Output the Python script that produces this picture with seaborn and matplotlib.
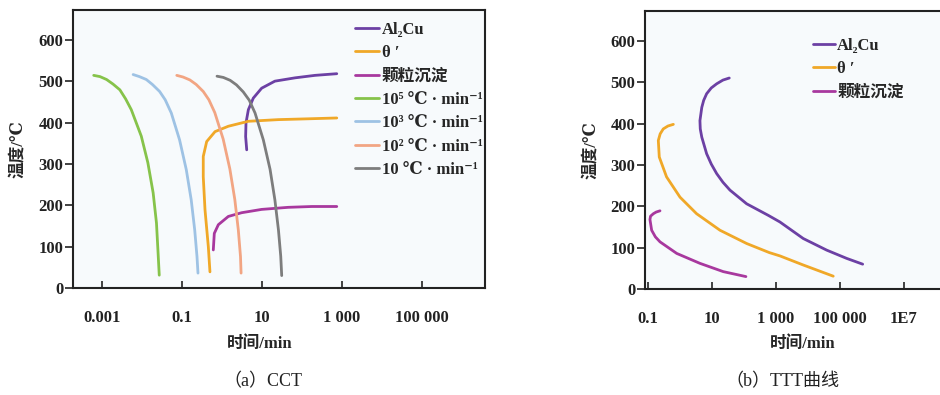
import numpy as np
import pandas as pd
import seaborn as sns
import matplotlib
matplotlib.use("Agg")
import matplotlib.pyplot as plt
from matplotlib.ticker import NullLocator

# ---- data (time in min, temperature in degC) ----
# (a) CCT
cct_al2cu_t = [4.15, 3.9, 3.98, 4.56, 6.06, 9.8, 21, 67, 211, 740]
cct_al2cu_T = [334, 366, 399, 431, 459, 483, 500, 508, 514, 518]
cct_theta_t = [0.5, 0.455, 0.376, 0.34, 0.34, 0.414, 0.67, 1.44, 4.55, 25.6, 144, 740]
cct_theta_T = [39, 100, 189, 269, 318, 354, 378, 391, 403, 407, 409, 411]
cct_part_t = [0.606, 0.642, 0.81, 1.44, 3.1, 9.8, 45, 175, 740]
cct_part_T = [92, 132, 153, 173, 182, 190, 195, 197, 197]

cool5_t = [0.00062, 0.00089, 0.0013, 0.00188, 0.0028, 0.0039, 0.0054, 0.0096, 0.014, 0.019, 0.023, 0.025, 0.027]
cool5_T = [514, 511, 504, 493, 479, 457, 431, 367, 303, 230, 157, 92, 31]
cool3_t = [0.006, 0.0086, 0.0128, 0.0182, 0.0276, 0.038, 0.054, 0.087, 0.128, 0.17, 0.208, 0.237, 0.251]
cool3_T = [516, 511, 504, 492, 475, 455, 423, 358, 286, 213, 140, 76, 36]
cool2_t = [0.074, 0.106, 0.157, 0.226, 0.34, 0.47, 0.66, 1.07, 1.57, 2.09, 2.56, 2.9, 3.0]
cool2_T = [514, 510, 503, 492, 475, 455, 424, 360, 288, 214, 140, 76, 36]
cool1_t = [0.75, 1.08, 1.6, 2.3, 3.4, 4.8, 6.7, 10.8, 15.9, 21, 25.8, 29.4, 31.1]
cool1_T = [512, 509, 502, 491, 474, 454, 423, 358, 287, 213, 140, 77, 30]

# (b) TTT
ttt_al2cu_t = [34.7, 22, 14, 9.5, 6.8, 5.5, 4.8, 4.2, 4.3, 4.8, 6.8, 9.5, 14, 22, 36.5, 121, 575, 1330, 7130, 38400, 162000, 513000]
ttt_al2cu_T = [510, 505, 496, 486, 472, 456, 439, 407, 387, 367, 327, 302, 279, 258, 239, 206, 178, 162, 122, 94, 74, 60]
ttt_theta_t = [0.62, 0.42, 0.30, 0.24, 0.21, 0.225, 0.38, 1.0, 3.3, 17.8, 121, 620, 1330, 7130, 61700]
ttt_theta_T = [398, 394, 387, 375, 359, 319, 271, 222, 182, 142, 110, 88, 80, 58, 31]
ttt_part_t = [0.237, 0.18, 0.147, 0.12, 0.115, 0.13, 0.17, 0.237, 0.79, 4.2, 22.5, 115]
ttt_part_T = [189, 186, 182, 176, 168, 142, 126, 114, 86, 62, 42, 30]

labels_cct = ["Al₂Cu", "θ ′", "颗粒沉淀",
              "10⁵ ℃ · min⁻¹", "10³ ℃ · min⁻¹", "10² ℃ · min⁻¹", "10 ℃ · min⁻¹"]
labels_ttt = ["Al₂Cu", "θ ′", "颗粒沉淀"]
colors = ["#6c40a4", "#f0a828", "#a8389e", "#86c34a", "#9ec2e4", "#f2a583", "#7d7d7d"]

cct_xticks = [1e-3, 1e-1, 1e1, 1e3, 1e5]
cct_xlabels = ["0.001", "0.1", "10", "1 000", "100 000"]
ttt_xticks = [1e-1, 1e1, 1e3, 1e5, 1e7]
ttt_xlabels = ["0.1", "10", "1 000", "100 000", "1E7"]
yticks = [0, 100, 200, 300, 400, 500, 600]

sns.set_theme(style="ticks")
FONTS = ["Liberation Serif", "DejaVu Serif", "Noto Sans CJK SC"]
plt.rcParams["font.family"] = FONTS

fig = plt.figure(figsize=(9.4, 3.95), dpi=100)
fig.patch.set_facecolor("white")
ax1 = fig.add_axes([73 / 940, 1 - 288 / 395, 412 / 940, 278 / 395])
ax2 = fig.add_axes([645 / 940, 1 - 289 / 395, 305 / 940, 278 / 395])

cct = [(cct_al2cu_t, cct_al2cu_T), (cct_theta_t, cct_theta_T), (cct_part_t, cct_part_T),
       (cool5_t, cool5_T), (cool3_t, cool3_T), (cool2_t, cool2_T), (cool1_t, cool1_T)]
ttt = [(ttt_al2cu_t, ttt_al2cu_T), (ttt_theta_t, ttt_theta_T), (ttt_part_t, ttt_part_T)]

for ax, series, labels in [(ax1, cct, labels_cct), (ax2, ttt, labels_ttt)]:
    ax.set_xscale("log")
    for (t, T), lab, c in zip(series, labels, colors):
        sns.lineplot(x=t, y=T, ax=ax, color=c, label=lab, sort=False,
                     estimator=None, lw=2.0, solid_joinstyle="round", solid_capstyle="round")

ax1.set_xlim(10 ** -3.725, 10 ** 6.575)
ax2.set_xlim(10 ** -1.094, 10 ** 8.44)

tick_font = dict(family=FONTS, size=12, weight="bold")
for ax, xt, xl in [(ax1, cct_xticks, cct_xlabels), (ax2, ttt_xticks, ttt_xlabels)]:
    ax.set_facecolor("#f7fafc")
    ax.set_ylim(0, 672)
    ax.set_xticks(xt)
    ax.set_xticklabels(xl, fontdict=tick_font)
    ax.xaxis.set_minor_locator(NullLocator())
    ax.set_yticks(yticks)
    ax.set_yticklabels([str(v) for v in yticks], fontdict=tick_font)
    ax.tick_params(axis="x", direction="in", length=5, width=1.2, pad=16, colors="#222222")
    ax.tick_params(axis="y", direction="out", length=5.5, width=1.2, pad=1.5, colors="#222222")
    for s in ax.spines.values():
        s.set_linewidth(1.5)
        s.set_color("#222222")
    ax.set_xlabel("时间/min", fontdict=tick_font)
    ax.set_ylabel("温度/℃", fontdict=tick_font)

ax1.xaxis.set_label_coords(0.454, -0.172)
ax2.xaxis.set_label_coords(0.518, -0.169)
ax1.yaxis.set_label_coords(-0.115, 0.5)
ax2.yaxis.set_label_coords(-0.15, 0.5)

leg_font = dict(family=FONTS, size=12, weight="bold")
ax1.legend(loc="upper left", bbox_to_anchor=(355 / 940, 1 - 22 / 395),
           bbox_transform=fig.transFigure, frameon=False, prop=leg_font,
           handlelength=1.45, handletextpad=0.15, labelspacing=0.44,
           borderpad=0, borderaxespad=0)
ax2.legend(loc="upper left", bbox_to_anchor=(813 / 940, 1 - 38 / 395),
           bbox_transform=fig.transFigure, frameon=False, prop=leg_font,
           handlelength=1.3, handletextpad=0.15, labelspacing=0.44,
           borderpad=0, borderaxespad=0)

fig.text(263 / 940, 1 - 382 / 395, "（a）CCT", ha="center", va="center",
         family=FONTS, size=13, color="#222222")
fig.text(782 / 940, 1 - 382 / 395, "（b）TTT曲线", ha="center", va="center",
         family=FONTS, size=13, color="#222222")

fig.savefig("out.png", dpi=100, facecolor="white")
